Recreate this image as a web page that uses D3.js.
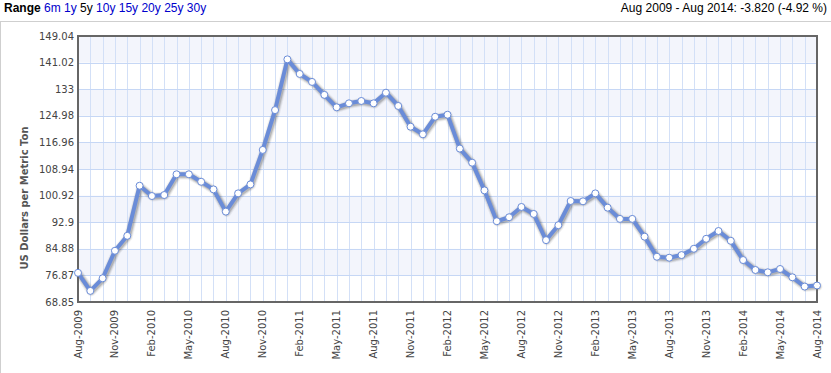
<!DOCTYPE html>
<html>
<head>
<meta charset="utf-8">
<script src="https://cdn.jsdelivr.net/npm/d3@7/dist/d3.min.js"></script>
<style>
  html, body { margin: 0; padding: 0; background: #fff; }
  svg { display: block; }
</style>
</head>
<body>
<svg id="chart" width="831" height="373"></svg>
<script>
// ---- data ----
const startMonth = "2009-08";   // first category
const monthCount = 61;          // Aug-2009 .. Aug-2014
const values = [
  77.64, 72.2, 76.0, 84.3, 88.8, 103.9, 100.8, 101.1, 107.35, 107.35,
  105.1, 102.8, 96.1, 101.6, 104.3, 114.7, 126.7, 142.0, 137.6, 135.2,
  131.3, 127.55, 128.75, 129.45, 128.75, 131.95, 127.95, 121.7, 119.4, 124.7,
  125.3, 115.1, 110.85, 102.5, 93.2, 94.4, 97.5, 95.4, 87.5, 92.0,
  99.3, 99.2, 101.6, 97.3, 93.9, 93.9, 88.55, 82.5, 82.2, 83.0,
  84.9, 87.9, 90.25, 87.3, 81.5, 78.5, 77.8, 78.8, 76.3, 73.5,
  73.82
];
const yTicks = [68.85, 76.87, 84.88, 92.9, 100.92, 108.94, 116.96, 124.98, 133, 141.02, 149.04];
const xTickLabels = ["Aug-2009","Nov-2009","Feb-2010","May-2010","Aug-2010","Nov-2010","Feb-2011",
  "May-2011","Aug-2011","Nov-2011","Feb-2012","May-2012","Aug-2012","Nov-2012","Feb-2013",
  "May-2013","Aug-2013","Nov-2013","Feb-2014","May-2014","Aug-2014"];
const xTickIndex = [0,3,6,9,12,15,18,21,24,27,30,33,36,39,42,45,48,51,54,57,60];
const rangeLinks = ["6m","1y","5y","10y","15y","20y","25y","30y"];
const activeRange = "5y";
const summaryText = "Aug 2009 - Aug 2014: -3.820 (-4.92 %)";
const yTitle = "US Dollars per Metric Ton";

// ---- layout ----
const svg = d3.select("#chart");
const L = 78, R = 817, T = 36, B = 302;
const x = d3.scaleLinear().domain([0, monthCount - 1]).range([L, R]);
const y = d3.scaleLinear().domain([yTicks[0], yTicks[yTicks.length - 1]]).range([B, T]);
const lineColor = "#6a8cd8";

// header
const hdr = svg.append("text").attr("x", 4).attr("y", 12)
  .attr("font-family", "'Liberation Sans', Arial, sans-serif").attr("font-size", 12);
hdr.append("tspan").attr("font-weight", "bold").attr("fill", "#000").text("Range");
rangeLinks.forEach(r => {
  hdr.append("tspan").attr("fill", r === activeRange ? "#000" : "#0000cc").text("\u00a0" + r);
});
svg.append("text").attr("x", 827).attr("y", 12).attr("text-anchor", "end")
  .attr("font-family", "'Liberation Sans', Arial, sans-serif").attr("font-size", 12)
  .attr("fill", "#000").text(summaryText);

// outer box
svg.append("rect").attr("x", 0.5).attr("y", 21.5).attr("width", 840).attr("height", 400)
  .attr("fill", "none").attr("stroke", "#cfcfcf").attr("stroke-width", 1);

// bands
const g = svg.append("g");
for (let i = 0; i < yTicks.length - 1; i++) {
  const topIdx = yTicks.length - 1 - i;
  if (i % 2 === 0) {
    g.append("rect").attr("x", L).attr("width", R - L)
      .attr("y", y(yTicks[topIdx])).attr("height", y(yTicks[topIdx - 1]) - y(yTicks[topIdx]))
      .attr("fill", "#f3f5fc");
  }
}
// vertical grid lines
g.selectAll("line.vg").data(d3.range(monthCount)).join("line")
  .attr("x1", d => Math.round(x(d)) + 0.5).attr("x2", d => Math.round(x(d)) + 0.5)
  .attr("y1", T).attr("y2", B).attr("stroke", "#d3e0f7").attr("stroke-width", 1);
// horizontal grid lines
g.selectAll("line.hg").data(yTicks).join("line")
  .attr("x1", L).attr("x2", R)
  .attr("y1", d => Math.round(y(d)) + 0.5).attr("y2", d => Math.round(y(d)) + 0.5)
  .attr("stroke", "#c6d7f5").attr("stroke-width", 1);

// y axis labels
svg.append("g").selectAll("text").data(yTicks).join("text")
  .attr("x", L - 4).attr("y", d => y(d)).attr("dy", "0.35em").attr("text-anchor", "end")
  .attr("font-family", "'DejaVu Sans', Verdana, sans-serif").attr("font-size", 10)
  .attr("fill", "#444").text(d => d);

// x axis labels
svg.append("g").selectAll("text").data(xTickIndex).join("text")
  .attr("transform", d => `translate(${x(d)},${B + 8}) rotate(-90)`)
  .attr("dy", "0.35em").attr("text-anchor", "end")
  .attr("font-family", "'DejaVu Sans', Verdana, sans-serif").attr("font-size", 10)
  .attr("fill", "#444").text((d, i) => xTickLabels[i]);

// y title
svg.append("text").attr("transform", `translate(28,198) rotate(-90)`)
  .attr("text-anchor", "middle")
  .attr("font-family", "'DejaVu Sans', Verdana, sans-serif").attr("font-size", 10)
  .attr("font-weight", "bold").attr("fill", "#555").text(yTitle);

// line + shadow
const line = d3.line().x((d, i) => x(i)).y(d => y(d)).curve(d3.curveLinear);
const sh = svg.append("g").attr("transform", "translate(1,1)");
[[9, 0.05], [7, 0.1], [5, 0.15]].forEach(([w, o]) => {
  sh.append("path").attr("d", line(values)).attr("fill", "none")
    .attr("stroke", "#000").attr("stroke-opacity", o).attr("stroke-width", w)
    .attr("stroke-linejoin", "round").attr("stroke-linecap", "round");
});
svg.append("path").attr("d", line(values)).attr("fill", "none")
  .attr("stroke", lineColor).attr("stroke-width", 4)
  .attr("stroke-linejoin", "round").attr("stroke-linecap", "round");

// plot border
svg.append("rect").attr("x", L).attr("y", T).attr("width", R - L).attr("height", B - T)
  .attr("fill", "none").attr("stroke", "#666").attr("stroke-width", 2);

// markers
svg.append("g").selectAll("circle").data(values).join("circle")
  .attr("cx", (d, i) => x(i)).attr("cy", d => y(d)).attr("r", 3.5)
  .attr("fill", "#fff").attr("stroke", lineColor).attr("stroke-width", 1);
</script>
</body>
</html>
